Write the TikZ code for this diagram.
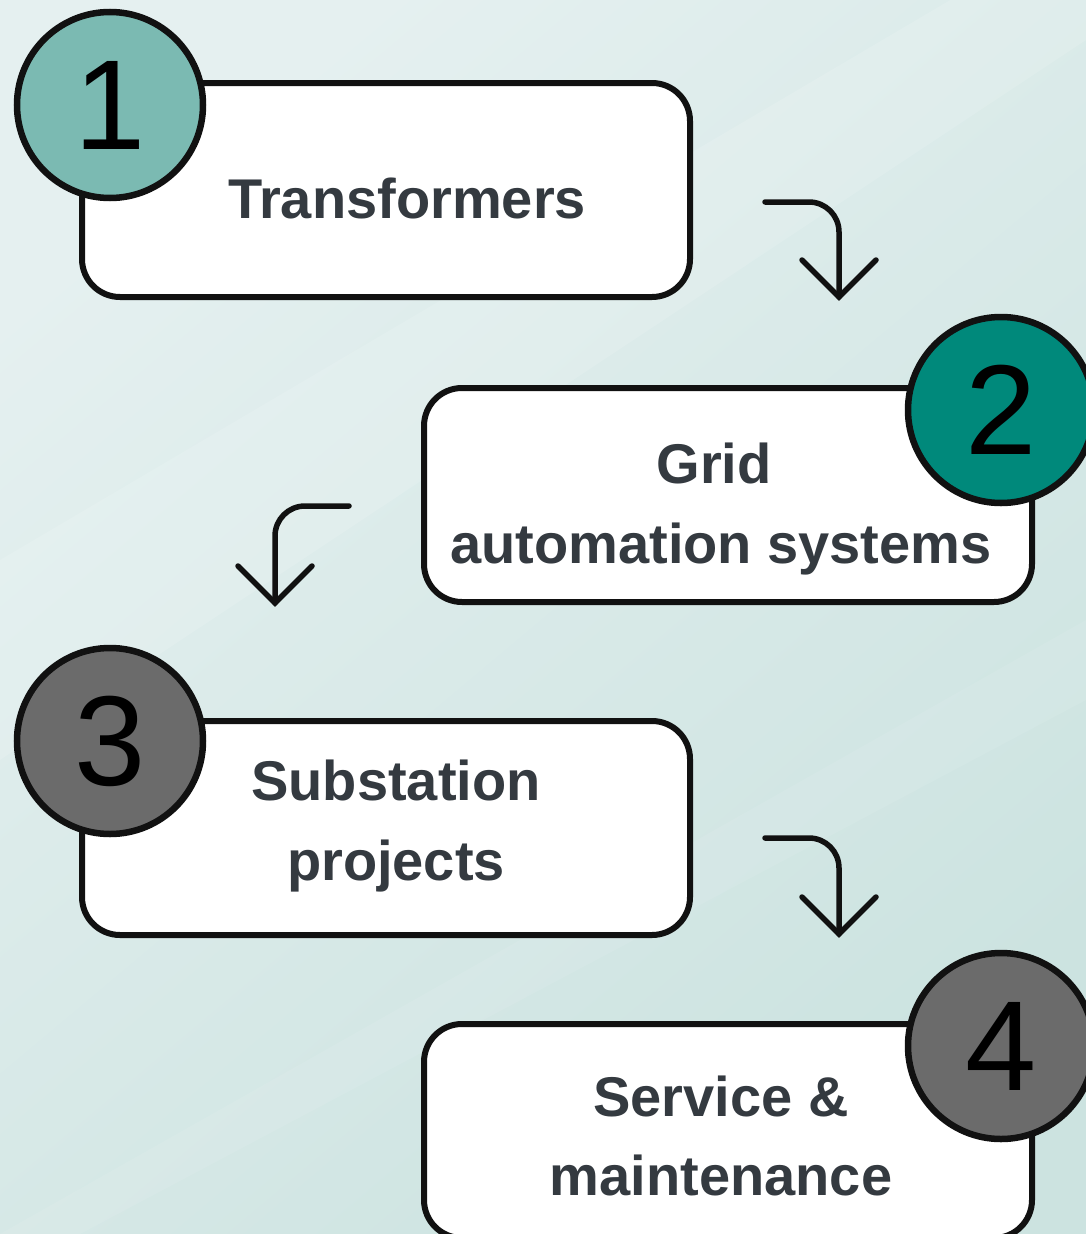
\documentclass[tikz,border=0pt]{standalone}
\usepackage{fontspec}
\setmainfont{Liberation Sans}
\usetikzlibrary{calc}
\definecolor{bgA}{HTML}{E5F0F0}
\definecolor{bgB}{HTML}{CCE3E0}
\definecolor{tealL}{HTML}{7BBAB2}
\definecolor{tealD}{HTML}{00897B}
\definecolor{grayC}{HTML}{6B6B6B}
\definecolor{txt}{HTML}{343A40}
\definecolor{ink}{HTML}{111111}
\begin{document}
\begin{tikzpicture}[x=1pt,y=-1pt,
  stepbox/.style={draw=ink,line width=6pt,fill=white,rounded corners=38pt,
    minimum width=608pt,minimum height=214pt,inner sep=0pt},
  badge/.style={circle,draw=ink,line width=6.5pt,minimum size=186pt,inner sep=0pt,
    font=\fontsize{128}{128}\selectfont,text=black},
  steptext/.style={text=txt,font=\bfseries\fontsize{56}{80}\selectfont,
    align=center,inner sep=0pt,anchor=base},
  turn/.style={draw=ink,line width=5.5pt,line cap=round,line join=round,rounded corners=30pt},
  tip/.style={draw=ink,line width=5.5pt,line cap=round,line join=miter}
]
% background
\useasboundingbox (0,0) rectangle (1086,1234);
\shade[top color=bgA,bottom color=bgB,shading angle=40]
  (0,0) rectangle (1086,1234);
\fill[white,opacity=0.12] (0,560) -- (1086,-80) -- (1086,40) -- (0,760) -- cycle;
\fill[white,opacity=0.08] (0,1234) -- (1086,620) -- (1086,700) -- (80,1234) -- cycle;

% boxes
\node[stepbox] (box1) at (386,190) {};
\node[stepbox] (box2) at (728,495) {};
\node[stepbox] (box3) at (386,828) {};
\node[stepbox] (box4) at (728,1131) {};

% badges
\node[badge,fill=tealL] (c1) at (110,105) {1};
\node[badge,fill=tealD] (c2) at (1001,410) {2};
\node[badge,fill=grayC] (c3) at (110,741) {3};
\node[badge,fill=grayC] (c4) at (1001,1046) {4};

% texts
\node[steptext] (t1) at (407,218) {Transformers};
\node[steptext] (t2a) at (714,483) {Grid};
\node[steptext] (t2b) at (721,563) {automation systems};
\node[steptext] (t3a) at (396,800) {Substation};
\node[steptext] (t3b) at (396,880) {projects};
\node[steptext] (t4a) at (721,1116) {Service \&};
\node[steptext] (t4b) at (721,1195) {maintenance};

% connectors
\coordinate (a1s) at (765,202);
\coordinate (a1t) at (839,297);
\coordinate (a2s) at (349,506);
\coordinate (a2t) at (275,603);
\coordinate (a3s) at (765,838);
\coordinate (a3t) at (839,934);

\draw[turn] (a1s) -| (a1t);
\draw[tip] ($(a1t)+(-37,-37)$) -- (a1t) -- ($(a1t)+(37,-37)$);
\draw[turn] (a2s) -| (a2t);
\draw[tip] ($(a2t)+(-37,-37)$) -- (a2t) -- ($(a2t)+(37,-37)$);
\draw[turn] (a3s) -| (a3t);
\draw[tip] ($(a3t)+(-37,-37)$) -- (a3t) -- ($(a3t)+(37,-37)$);
\end{tikzpicture}
\end{document}
